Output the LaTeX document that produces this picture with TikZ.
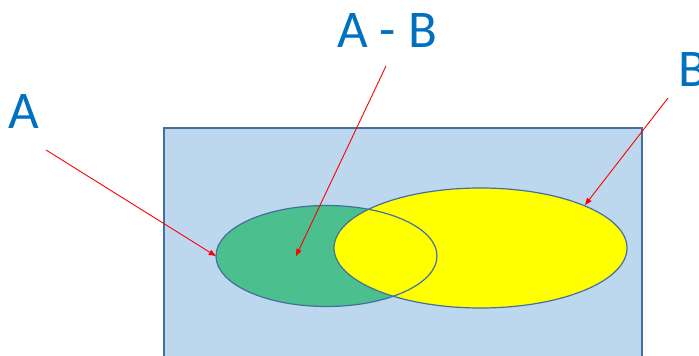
\documentclass[tikz,border=0pt]{standalone}
\usepackage{fontspec}
\setmainfont{Carlito}
\usetikzlibrary{shapes.geometric,arrows.meta}
\definecolor{lblblue}{HTML}{0070C0}
\definecolor{boxfill}{HTML}{BDD7EE}
\definecolor{edgeblue}{HTML}{41719C}
\definecolor{setgreen}{HTML}{4BBF8D}
\definecolor{setyellow}{HTML}{FFFF00}
\begin{document}
\begin{tikzpicture}[x=1pt,y=-1pt,
  setlbl/.style={text=lblblue,font=\fontsize{53}{53}\selectfont,inner sep=0pt,anchor=base},
  setshape/.style={ellipse,inner sep=0pt},
  outl/.style={draw=edgeblue,line width=1.2pt},
  ptr/.style={red,line width=0.9pt,-{Triangle[length=7pt,width=5.5pt]}}]
\useasboundingbox (0,0) rectangle (699,356);
\clip (0,0) rectangle (699,356);
% universe
\draw[outl,fill=boxfill] (164,128) rectangle (642,370);
% the two sets
\node[setshape,fill=setgreen,minimum width=221pt,minimum height=101pt] (setA) at (326.5,256) {};
\node[setshape,fill=setyellow,minimum width=293pt,minimum height=120pt] (setB) at (480.5,248) {};
\draw[outl] (setA.center) ellipse [x radius=110.5, y radius=50.5];
\draw[outl] (setB.center) ellipse [x radius=146.5, y radius=60];
% labels
\node[setlbl] (lblA) at (24,128) {A};
\node[setlbl] (lblAB) at (387,47) {A - B};
\node[setlbl] (lblB) at (693,86) {B};
% pointers
\coordinate (tailA) at (46,150);
\coordinate (tailAB) at (386,66);
\coordinate (tailB) at (668,98);
\coordinate (headAB) at (296,256);
\coordinate (headB) at (585,205);
\draw[ptr] (tailA) -- (setA.west);
\draw[ptr] (tailAB) -- (headAB);
\draw[ptr] (tailB) -- (headB);
\end{tikzpicture}
\end{document}
